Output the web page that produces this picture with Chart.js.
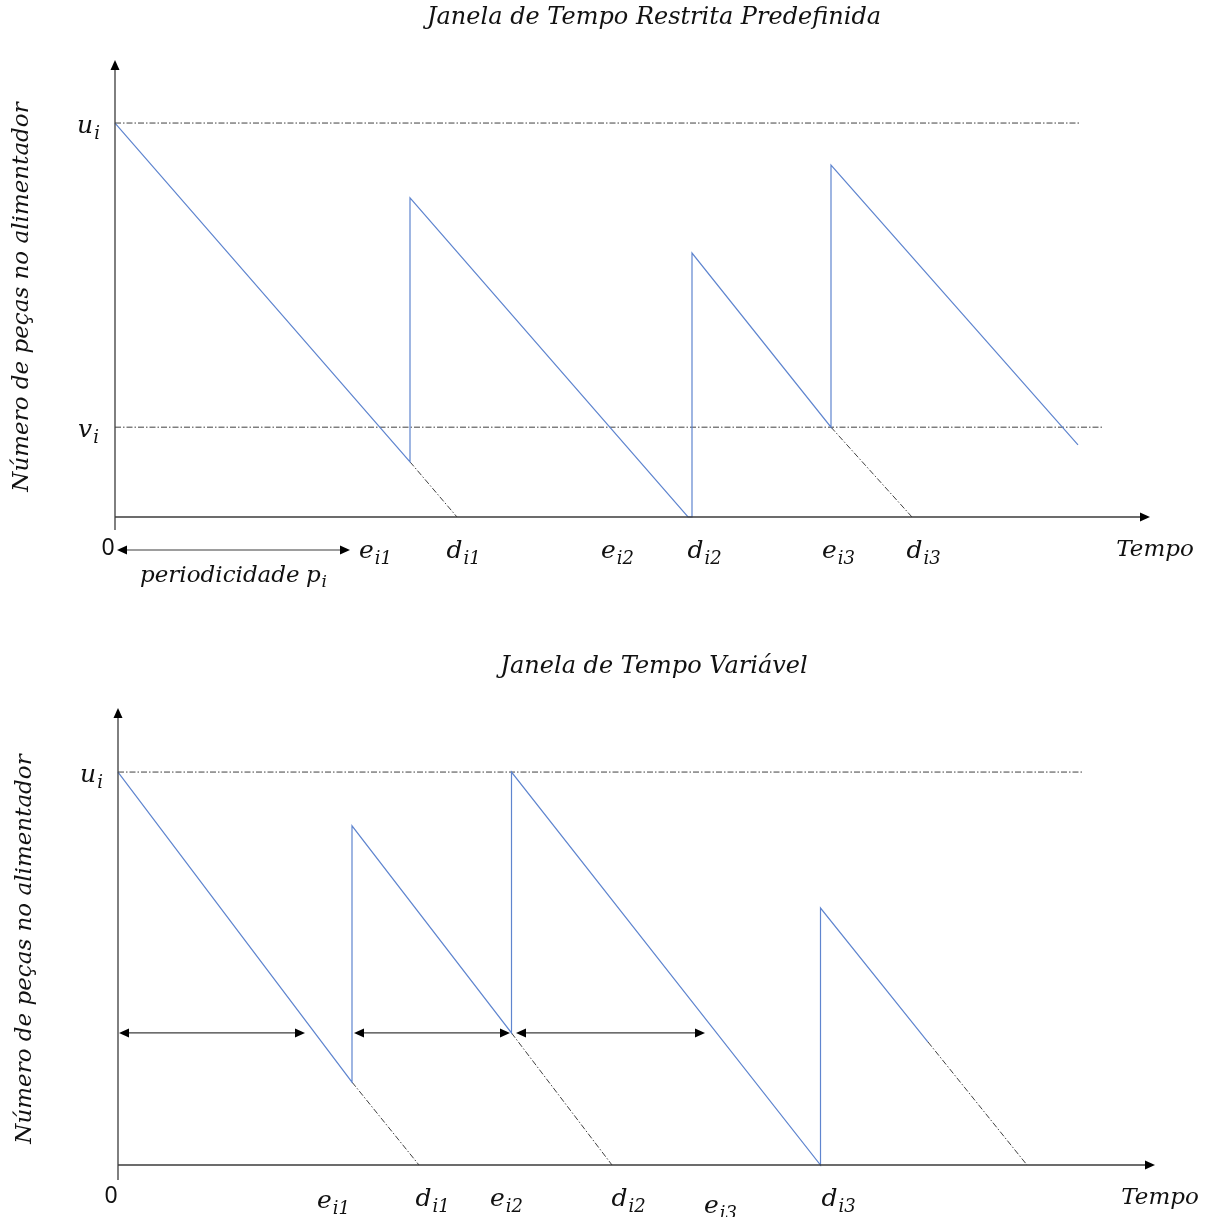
<!DOCTYPE html>
<html>
<head>
<meta charset="utf-8">
<script src="https://cdn.jsdelivr.net/npm/chart.js@4.4.1/dist/chart.umd.min.js"></script>
<style>
    body { margin: 0; background: #fff; }
    .box { position: absolute; left: 0; width: 1208px; }
    #box_fixed { top: 0; height: 620px; }
    #box_variable { top: 620px; height: 597px; }
</style>
</head>
<body>
<div class="box" id="box_fixed"><canvas id="fixed" width="1208" height="620"></canvas></div>
<div class="box" id="box_variable"><canvas id="variable" width="1208" height="597"></canvas></div>
<script>
// --- top chart: restricted, predefined window ---
const fixed_time  = [0, 29.5, 29.5, 57.3, 57.7, 57.7, 71.6, 71.6, 96.3];
const fixed_stock = [100, 14, 81, 0, 0, 67, 22.8, 89.3, 18.3];
const fixed_ghosts = [
    [29.5, 14, 34.2, 0],
    [71.6, 22.8, 79.7, 0],
];
const fixed_u = 100;
const fixed_v = 22.8;
const fixed_u_end = 96.5;
const fixed_v_end = 98.8;
const fixed_tick_at = [26.0, 34.8, 50.2, 58.9, 72.3, 80.8];
const fixed_tick_main = ['e', 'd', 'e', 'd', 'e', 'd'];
const fixed_tick_sub = ['i1', 'i1', 'i2', 'i2', 'i3', 'i3'];
const fixed_period = [0.2, 23.5];

// --- bottom chart: variable window ---
const variable_time  = [0, 23.4, 23.4, 39.35, 39.35, 70.25, 70.25, 81.0];
const variable_stock = [100, 21.1, 86.3, 33.6, 100, 0, 65.4, 31.3];
const variable_ghosts = [
    [23.4, 21.1, 30.1, 0],
    [39.35, 33.6, 49.4, 0],
    [81.0, 31.3, 90.9, 0],
];
const variable_u = 100;
const variable_u_end = 96.5;
const variable_tick_at = [21.5, 31.4, 38.8, 51.0, 60.2, 72.0];
const variable_tick_main = ['e', 'd', 'e', 'd', 'e', 'd'];
const variable_tick_sub = ['i1', 'i1', 'i2', 'i2', 'i3', 'i3'];
const variable_spans = [[0.1, 18.7], [23.6, 39.2], [39.8, 58.7]];
const variable_span_level = 33.6;

const BLUE = '#5f85cf';
const GHOST = '#404040';
const DASHDOT = [6, 2, 1.5, 2];
const SERIF = "'DejaVu Serif'";

function pts(xs, ys) {
    return xs.map((x, i) => ({x: x, y: ys[i]}));
}

function ghostSets(list) {
    return list.map(g => ({
        data: [{x: g[0], y: g[1]}, {x: g[2], y: g[3]}],
        borderColor: GHOST,
        borderWidth: 1,
        borderDash: DASHDOT,
    }));
}

function levelSet(level, end) {
    return {
        data: [{x: 0, y: level}, {x: end, y: level}],
        borderColor: GHOST,
        borderWidth: 1,
        borderDash: DASHDOT,
    };
}

function drawSub(ctx, cx, base, main, sub, size) {
    ctx.font = 'italic ' + size + 'px ' + SERIF;
    const w1 = ctx.measureText(main).width;
    const subSize = Math.round(size * 0.72);
    ctx.font = 'italic ' + subSize + 'px ' + SERIF;
    const w2 = ctx.measureText(sub).width;
    const x = cx - (w1 + w2) / 2;
    ctx.textAlign = 'left';
    ctx.textBaseline = 'alphabetic';
    ctx.font = 'italic ' + size + 'px ' + SERIF;
    ctx.fillText(main, x, base);
    ctx.font = 'italic ' + subSize + 'px ' + SERIF;
    ctx.fillText(sub, x + w1 + 1, base + size * 0.22);
}

function head(ctx, x, y, dir) {
    const L = 10, H = 4.5;
    ctx.beginPath();
    if (dir == 'up') { ctx.moveTo(x, y); ctx.lineTo(x - H, y + L); ctx.lineTo(x + H, y + L); }
    if (dir == 'right') { ctx.moveTo(x, y); ctx.lineTo(x - L, y - H); ctx.lineTo(x - L, y + H); }
    if (dir == 'left') { ctx.moveTo(x, y); ctx.lineTo(x + L, y - H); ctx.lineTo(x + L, y + H); }
    ctx.closePath();
    ctx.fill();
}

function doubleArrow(ctx, a, b, y) {
    ctx.beginPath();
    ctx.moveTo(a + 6, y);
    ctx.lineTo(b - 6, y);
    ctx.stroke();
    head(ctx, a, y, 'left');
    head(ctx, b, y, 'right');
}

const sketch = {
    id: 'sketch',
    afterDatasetsDraw(chart, args, o) {
        const ctx = chart.ctx;
        const sx = chart.scales.x, sy = chart.scales.y;
        const x0 = sx.getPixelForValue(0), y0 = sy.getPixelForValue(0);
        const xEnd = sx.getPixelForValue(sx.max), yTop = sy.getPixelForValue(sy.max);
        ctx.save();
        ctx.strokeStyle = '#3c3c3c';
        ctx.fillStyle = '#000';
        ctx.lineWidth = 1.3;

        // axes with arrows
        ctx.beginPath();
        ctx.moveTo(x0, y0 + o.overhang);
        ctx.lineTo(x0, yTop + 6);
        ctx.moveTo(x0, y0);
        ctx.lineTo(xEnd - 6, y0);
        ctx.stroke();
        head(ctx, x0, yTop, 'up');
        head(ctx, xEnd, y0, 'right');

        // spans (double arrows)
        ctx.lineWidth = 1.2;
        (o.spans || []).forEach(s => {
            doubleArrow(ctx, sx.getPixelForValue(s[0]), sx.getPixelForValue(s[1]),
                s[2] !== undefined ? y0 + s[2] : sy.getPixelForValue(o.spanLevel));
        });

        ctx.fillStyle = '#111';
        // title
        ctx.font = 'italic 24px ' + SERIF;
        ctx.textAlign = 'center';
        ctx.textBaseline = 'middle';
        ctx.fillText(o.title, chart.width / 2 + 50, o.titleY);

        // y axis title
        ctx.save();
        ctx.translate(o.yTitleX, o.yTitleY);
        ctx.rotate(-Math.PI / 2);
        ctx.font = 'italic 23px ' + SERIF;
        ctx.fillText('Número de peças no alimentador', 0, 0);
        ctx.restore();

        // level labels
        o.levels.forEach(l => {
            drawSub(ctx, x0 - 27, sy.getPixelForValue(l[1]) + 10, l[0], 'i', 25);
        });

        // tick labels
        o.tickAt.forEach((t, i) => {
            drawSub(ctx, sx.getPixelForValue(t), y0 + o.tickDrop + (o.tickExtra[i] || 0),
                o.tickMain[i], o.tickSub[i], 25);
        });

        ctx.font = "23px 'Noto Sans'";
        ctx.textAlign = 'center';
        ctx.textBaseline = 'alphabetic';
        ctx.fillText('0', x0 + o.zeroDx, y0 + o.zeroDrop);

        ctx.font = 'italic 23px ' + SERIF;
        ctx.fillText('Tempo', xEnd + 5, y0 + o.tickDrop - 2);

        if (o.periodText) {
            const pm = (sx.getPixelForValue(o.spans[0][0]) + sx.getPixelForValue(o.spans[0][1])) / 2;
            ctx.font = 'italic 23px ' + SERIF;
            const w = ctx.measureText('periodicidade ').width;
            ctx.textAlign = 'left';
            ctx.fillText('periodicidade ', pm - (w + 20) / 2, y0 + 65);
            drawSub(ctx, pm - (w + 20) / 2 + w + 9, y0 + 65, 'p', 'i', 23);
        }
        ctx.restore();
    }
};

function makeChart(id, time, stock, ghosts, levels, pad, xMax, yMax, opts) {
    const datasets = [{
        data: pts(time, stock),
        borderColor: BLUE,
        borderWidth: 1.2,
    }].concat(ghostSets(ghosts)).concat(levels.map(l => levelSet(l[0], l[1])));

    return new Chart(document.getElementById(id).getContext('2d'), {
        type: 'line',
        data: { datasets: datasets },
        options: {
            responsive: false,
            animation: false,
            layout: { padding: pad },
            elements: { point: { radius: 0 }, line: { tension: 0 } },
            datasets: { line: { clip: false, fill: false } },
            scales: {
                x: { type: 'linear', min: 0, max: xMax, display: false },
                y: { type: 'linear', min: 0, max: yMax, display: false },
            },
            plugins: {
                legend: { display: false },
                tooltip: { enabled: false },
                sketch: opts,
            }
        },
        plugins: [sketch]
    });
}

const Chart_fixed = makeChart('fixed', fixed_time, fixed_stock, fixed_ghosts,
    [[fixed_u, fixed_u_end], [fixed_v, fixed_v_end]],
    { left: 115, right: 58, top: 60, bottom: 103 }, 103.5, 116,
    {
        title: 'Janela de Tempo Restrita Predefinida', titleY: 18,
        yTitleX: 22, yTitleY: 297, overhang: 13,
        levels: [['u', fixed_u], ['v', fixed_v]],
        tickAt: fixed_tick_at, tickMain: fixed_tick_main, tickSub: fixed_tick_sub,
        tickDrop: 41, tickExtra: [], zeroDx: -7, zeroDrop: 38,
        spans: [[fixed_period[0], fixed_period[1], 33]], periodText: true,
    });

const Chart_variable = makeChart('variable', variable_time, variable_stock, variable_ghosts,
    [[variable_u, variable_u_end]],
    { left: 118, right: 53, top: 88, bottom: 52 }, 103.7, 116.3,
    {
        title: 'Janela de Tempo Variável', titleY: 47,
        yTitleX: 25, yTitleY: 329, overhang: 15,
        levels: [['u', variable_u]],
        tickAt: variable_tick_at, tickMain: variable_tick_main, tickSub: variable_tick_sub,
        tickDrop: 41, tickExtra: [2, 0, 0, 0, 7, 0], zeroDx: -7, zeroDrop: 38,
        spans: variable_spans, spanLevel: variable_span_level,
    });
</script>
</body>
</html>
